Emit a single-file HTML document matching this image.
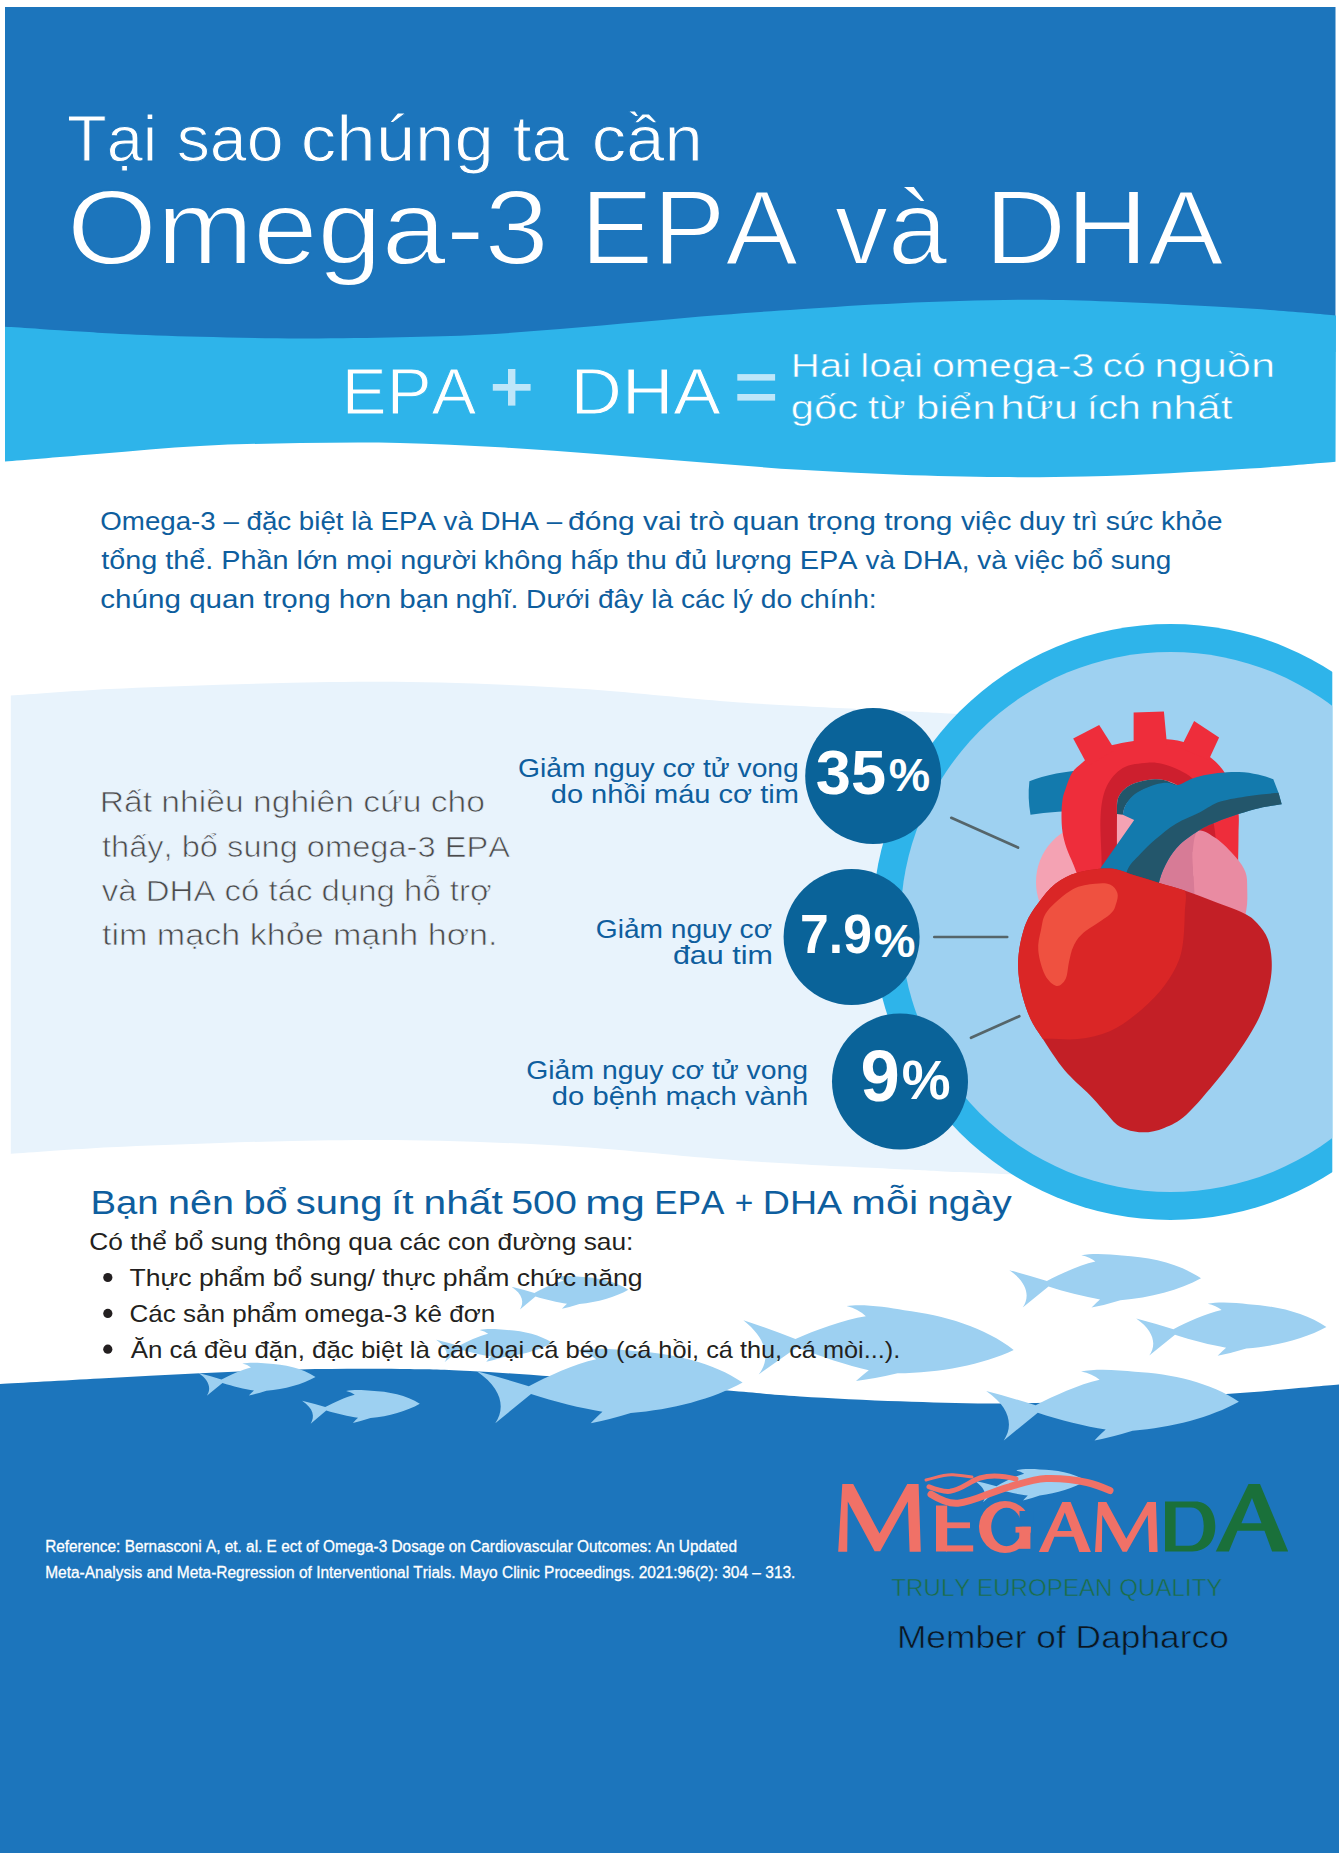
<!DOCTYPE html>
<html><head><meta charset="utf-8"><title>Omega-3 EPA và DHA</title>
<style>
html,body{margin:0;padding:0;background:#fff;}
body{width:1343px;height:1853px;overflow:hidden;}
svg{display:block;}
text{font-family:"Liberation Sans",sans-serif;font-kerning:none;font-variant-ligatures:none;}
</style></head><body>
<svg width="1343" height="1853" viewBox="0 0 1343 1853">
<rect x="0" y="0" width="1343" height="1853" fill="#fff"/>
<rect x="5" y="7" width="1330.5" height="345" fill="#1c75bc"/>
<path d="M5.0,326.8 C10.8,327.1 27.5,328.1 40.0,328.9 C52.5,329.7 66.7,330.7 80.0,331.5 C93.3,332.3 100.0,333.0 120.0,333.9 C140.0,334.8 170.0,336.0 200.0,336.8 C230.0,337.6 266.7,338.4 300.0,338.5 C333.3,338.6 370.0,337.9 400.0,337.3 C430.0,336.7 453.3,336.2 480.0,334.8 C506.7,333.4 532.8,331.2 560.0,329.0 C587.2,326.8 616.3,324.0 643.0,321.7 C669.7,319.4 693.8,317.1 720.0,315.0 C746.2,312.9 770.0,311.2 800.0,309.2 C830.0,307.2 863.3,304.8 900.0,303.2 C936.7,301.6 985.0,300.1 1020.0,299.8 C1055.0,299.5 1080.0,300.5 1110.0,301.5 C1140.0,302.5 1173.3,304.4 1200.0,305.8 C1226.7,307.2 1247.3,308.4 1270.0,310.0 C1292.7,311.6 1325.0,314.5 1336.0,315.4 L1335.5,461.7 C1321.2,462.9 1277.6,466.7 1250.0,468.6 C1222.4,470.5 1197.5,471.9 1170.0,473.2 C1142.5,474.5 1113.3,475.9 1085.0,476.5 C1056.7,477.1 1030.8,477.4 1000.0,477.1 C969.2,476.8 933.3,476.0 900.0,474.8 C866.7,473.6 833.3,471.9 800.0,469.8 C766.7,467.7 733.3,464.9 700.0,462.3 C666.7,459.7 633.3,456.7 600.0,454.2 C566.7,451.7 533.3,449.2 500.0,447.3 C466.7,445.4 433.3,443.6 400.0,442.9 C366.7,442.2 333.3,442.5 300.0,443.0 C266.7,443.5 233.3,444.2 200.0,446.0 C166.7,447.8 132.5,451.2 100.0,453.8 C67.5,456.4 20.8,460.3 5.0,461.6Z" fill="#2eb4ea"/>
<path d="M10.8,695.6 C27.3,694.5 75.1,690.8 110.0,689.0 C144.9,687.2 183.3,685.9 220.0,684.7 C256.7,683.6 293.3,682.5 330.0,682.1 C366.7,681.7 398.3,681.4 440.0,682.5 C481.7,683.6 533.3,685.7 580.0,688.8 C626.7,691.9 683.3,698.0 720.0,700.9 C756.7,703.8 770.0,704.4 800.0,706.1 C830.0,707.8 873.3,709.7 900.0,711.0 C926.7,712.3 926.7,712.4 960.0,713.9 C993.3,715.4 1051.7,718.1 1100.0,720.0 C1148.3,721.9 1225.0,724.2 1250.0,725.0 L1250.0,1183.2 C1225.0,1182.4 1148.3,1180.1 1100.0,1178.2 C1051.7,1176.3 993.3,1173.6 960.0,1172.1 C926.7,1170.6 926.7,1170.5 900.0,1169.2 C873.3,1167.9 830.0,1166.0 800.0,1164.3 C770.0,1162.6 756.7,1162.0 720.0,1159.1 C683.3,1156.2 626.7,1150.1 580.0,1147.0 C533.3,1143.9 481.7,1141.8 440.0,1140.7 C398.3,1139.6 366.7,1139.9 330.0,1140.3 C293.3,1140.7 256.7,1141.8 220.0,1142.9 C183.3,1144.1 144.9,1145.4 110.0,1147.2 C75.1,1149.0 27.3,1152.7 10.8,1153.8Z" fill="#e8f3fc"/>
<defs><clipPath id="cc"><rect x="0" y="0" width="1332.3" height="1853"/></clipPath></defs>
<g clip-path="url(#cc)"><circle cx="1170.5" cy="922" r="298" fill="#2eb4ea"/><circle cx="1170.5" cy="922" r="270" fill="#9ed1f1"/></g>
<path d="M0.0,1384.0 C16.7,1383.1 66.7,1380.3 100.0,1378.5 C133.3,1376.7 166.7,1374.8 200.0,1373.3 C233.3,1371.8 266.7,1370.1 300.0,1369.4 C333.3,1368.7 371.7,1368.7 400.0,1369.0 C428.3,1369.3 436.7,1369.2 470.0,1371.0 C503.3,1372.8 557.0,1376.8 600.0,1380.0 C643.0,1383.2 694.7,1387.8 728.0,1390.5 C761.3,1393.2 771.3,1394.6 800.0,1396.4 C828.7,1398.2 868.3,1400.1 900.0,1401.3 C931.7,1402.5 956.7,1403.5 990.0,1403.5 C1023.3,1403.5 1060.0,1402.6 1100.0,1401.0 C1140.0,1399.4 1190.2,1396.4 1230.0,1393.7 C1269.8,1391.0 1320.8,1386.1 1339.0,1384.6 L1339,1853 L0,1853Z" fill="#1c75bc"/>
<path d="M1009.4,1270.2 Q1028,1275 1046.9,1281 C1060,1274 1080,1265 1095.4,1261.6 Q1090,1257 1081.3,1255.3 C1092,1253 1110,1254 1122,1255.6 C1150,1257 1180,1264 1201,1278.3 C1180,1290 1150,1298 1120.4,1300.2 Q1105,1305 1091.5,1307.6 Q1097,1302 1100,1299.4 C1085,1297 1065,1292 1048.5,1286.6 L1022.7,1307.6 C1030,1297 1028,1283 1009.4,1270.2Z" fill="#9dd0f1" transform="matrix(1.00000,0.00000,-0.00000,1.00000,0.00,0.00)"/>
<path d="M1009.4,1270.2 Q1028,1275 1046.9,1281 C1060,1274 1080,1265 1095.4,1261.6 Q1090,1257 1081.3,1255.3 C1092,1253 1110,1254 1122,1255.6 C1150,1257 1180,1264 1201,1278.3 C1180,1290 1150,1298 1120.4,1300.2 Q1105,1305 1091.5,1307.6 Q1097,1302 1100,1299.4 C1085,1297 1065,1292 1048.5,1286.6 L1022.7,1307.6 C1030,1297 1028,1283 1009.4,1270.2Z" fill="#9dd0f1" transform="matrix(0.99282,0.00291,-0.00291,0.99282,137.75,54.38)"/>
<path d="M1009.4,1270.2 Q1028,1275 1046.9,1281 C1060,1274 1080,1265 1095.4,1261.6 Q1090,1257 1081.3,1255.3 C1092,1253 1110,1254 1122,1255.6 C1150,1257 1180,1264 1201,1278.3 C1180,1290 1150,1298 1120.4,1300.2 Q1105,1305 1091.5,1307.6 Q1097,1302 1100,1299.4 C1085,1297 1065,1292 1048.5,1286.6 L1022.7,1307.6 C1030,1297 1028,1283 1009.4,1270.2Z" fill="#9dd0f1" transform="matrix(1.31888,-0.00043,0.00043,1.31888,-345.62,-283.70)"/>
<path d="M1009.4,1270.2 Q1028,1275 1046.9,1281 C1060,1274 1080,1265 1095.4,1261.6 Q1090,1257 1081.3,1255.3 C1092,1253 1110,1254 1122,1255.6 C1150,1257 1180,1264 1201,1278.3 C1180,1290 1150,1298 1120.4,1300.2 Q1105,1305 1091.5,1307.6 Q1097,1302 1100,1299.4 C1085,1297 1065,1292 1048.5,1286.6 L1022.7,1307.6 C1030,1297 1028,1283 1009.4,1270.2Z" fill="#9dd0f1" transform="matrix(1.41478,0.09520,-0.09520,1.41478,-563.75,-572.94)"/>
<path d="M1009.4,1270.2 Q1028,1275 1046.9,1281 C1060,1274 1080,1265 1095.4,1261.6 Q1090,1257 1081.3,1255.3 C1092,1253 1110,1254 1122,1255.6 C1150,1257 1180,1264 1201,1278.3 C1180,1290 1150,1298 1120.4,1300.2 Q1105,1305 1091.5,1307.6 Q1097,1302 1100,1299.4 C1085,1297 1065,1292 1048.5,1286.6 L1022.7,1307.6 C1030,1297 1028,1283 1009.4,1270.2Z" fill="#9dd0f1" transform="matrix(1.38726,-0.00019,0.00019,1.38726,-923.74,-390.60)"/>
<path d="M1009.4,1270.2 Q1028,1275 1046.9,1281 C1060,1274 1080,1265 1095.4,1261.6 Q1090,1257 1081.3,1255.3 C1092,1253 1110,1254 1122,1255.6 C1150,1257 1180,1264 1201,1278.3 C1180,1290 1150,1298 1120.4,1300.2 Q1105,1305 1091.5,1307.6 Q1097,1302 1100,1299.4 C1085,1297 1065,1292 1048.5,1286.6 L1022.7,1307.6 C1030,1297 1028,1283 1009.4,1270.2Z" fill="#9dd0f1" transform="matrix(0.60605,-0.00996,0.00996,0.60605,-188.30,580.05)"/>
<path d="M1009.4,1270.2 Q1028,1275 1046.9,1281 C1060,1274 1080,1265 1095.4,1261.6 Q1090,1257 1081.3,1255.3 C1092,1253 1110,1254 1122,1255.6 C1150,1257 1180,1264 1201,1278.3 C1180,1290 1150,1298 1120.4,1300.2 Q1105,1305 1091.5,1307.6 Q1097,1302 1100,1299.4 C1085,1297 1065,1292 1048.5,1286.6 L1022.7,1307.6 C1030,1297 1028,1283 1009.4,1270.2Z" fill="#9dd0f1" transform="matrix(0.60918,-0.01010,0.01010,0.60918,-116.23,523.21)"/>
<path d="M1009.4,1270.2 Q1028,1275 1046.9,1281 C1060,1274 1080,1265 1095.4,1261.6 Q1090,1257 1081.3,1255.3 C1092,1253 1110,1254 1122,1255.6 C1150,1257 1180,1264 1201,1278.3 C1180,1290 1150,1298 1120.4,1300.2 Q1105,1305 1091.5,1307.6 Q1097,1302 1100,1299.4 C1085,1297 1065,1292 1048.5,1286.6 L1022.7,1307.6 C1030,1297 1028,1283 1009.4,1270.2Z" fill="#9dd0f1" transform="matrix(0.61042,-0.00545,0.00545,0.61042,-424.58,603.25)"/>
<path d="M1009.4,1270.2 Q1028,1275 1046.9,1281 C1060,1274 1080,1265 1095.4,1261.6 Q1090,1257 1081.3,1255.3 C1092,1253 1110,1254 1122,1255.6 C1150,1257 1180,1264 1201,1278.3 C1180,1290 1150,1298 1120.4,1300.2 Q1105,1305 1091.5,1307.6 Q1097,1302 1100,1299.4 C1085,1297 1065,1292 1048.5,1286.6 L1022.7,1307.6 C1030,1297 1028,1283 1009.4,1270.2Z" fill="#9dd0f1" transform="matrix(0.61387,-0.01029,0.01029,0.61387,-330.61,631.46)"/>
<ellipse cx="1090" cy="882" rx="54" ry="57" fill="#f4a2b3"/>
<path d="M1029.4,781.3 Q1052,772 1092,769 L1092,810 Q1055,811 1030.5,814.7 Q1027.5,798 1029.4,781.3Z" fill="#137aad"/>
<path d="M1080.0,882.0 C1078.9,879.1 1075.7,870.2 1073.4,864.5 C1071.2,858.8 1068.3,853.4 1066.5,848.0 C1064.7,842.6 1063.3,837.5 1062.5,832.0 C1061.7,826.5 1061.5,820.3 1061.5,815.0 C1061.5,809.7 1061.9,804.2 1062.5,800.0 C1063.1,795.8 1063.6,794.5 1065.2,790.0 C1066.8,785.5 1069.1,777.6 1072.0,773.0 C1074.9,768.4 1078.7,766.1 1082.5,762.6 C1086.3,759.1 1089.8,755.0 1095.0,752.0 C1100.2,749.0 1104.8,746.9 1113.8,744.8 C1122.8,742.7 1137.8,740.1 1149.3,739.6 C1160.8,739.1 1172.2,738.6 1182.6,741.7 C1193.0,744.8 1204.1,752.1 1211.8,758.4 C1219.5,764.6 1224.2,770.9 1228.5,779.2 C1232.8,787.5 1236.2,799.1 1237.9,808.4 C1239.6,817.7 1238.5,824.7 1238.5,835.0 C1238.5,845.3 1238.1,864.2 1238.0,870.0 L1200,880 L1100,885Z" fill="#ee2d3b"/>
<path d="M1073.2,738.6 L1099.2,725 L1115,750 L1088,766Z" fill="#ee2d3b"/>
<path d="M1133.6,712.5 L1163.9,711.5 L1167,745 L1133.6,745Z" fill="#ee2d3b"/>
<path d="M1194.1,720.9 L1219.1,737.5 L1208.7,760 L1180.6,748Z" fill="#ee2d3b"/>
<path d="M1101.5,880.0 C1101.5,876.1 1101.7,867.2 1101.5,856.5 C1101.3,845.8 1099.8,827.1 1100.6,815.5 C1101.4,803.9 1102.7,794.8 1106.4,786.9 C1110.1,779.0 1116.0,772.0 1122.8,768.0 C1129.6,764.0 1140.5,763.3 1147.3,762.7 C1154.1,762.1 1158.2,763.0 1163.7,764.3 C1169.2,765.6 1175.4,768.2 1180.1,770.5 C1184.8,772.8 1187.8,774.5 1191.6,777.8 C1195.4,781.0 1199.9,785.5 1203.0,790.0 C1206.1,794.5 1208.2,799.2 1210.0,805.0 C1211.8,810.8 1213.0,818.3 1214.0,825.0 C1215.0,831.7 1215.7,836.7 1216.0,845.0 C1216.3,853.3 1216.0,870.0 1216.0,875.0 Z" fill="#cd1f2e"/>
<path d="M1117.0,880.0 C1117.0,869.0 1116.9,827.4 1117.0,813.9 C1117.1,800.4 1116.6,803.2 1117.8,799.1 C1119.0,795.0 1121.4,792.0 1124.4,789.3 C1127.4,786.6 1131.4,784.4 1135.9,782.8 C1140.4,781.2 1146.8,780.0 1151.4,779.5 C1156.0,779.0 1159.3,778.9 1163.7,779.9 C1168.1,780.9 1173.2,782.7 1177.6,785.2 C1182.0,787.7 1186.6,790.0 1190.0,795.0 C1193.4,800.0 1196.3,800.8 1198.0,815.0 C1199.7,829.2 1199.7,869.2 1200.0,880.0 Z" fill="#f4a2b3"/>
<path d="M1117.0,814.0 C1117.1,811.5 1116.6,803.2 1117.8,799.1 C1119.0,795.0 1121.4,792.0 1124.4,789.3 C1127.4,786.6 1131.4,784.4 1135.9,782.8 C1140.4,781.2 1146.8,780.0 1151.4,779.5 C1156.0,779.0 1159.3,778.9 1163.7,779.9 C1168.1,780.9 1175.3,784.3 1177.6,785.2 L1177.6,786.0 C1176.0,785.7 1171.5,784.1 1167.8,784.0 C1164.1,783.9 1159.6,784.5 1155.5,785.5 C1151.4,786.5 1147.0,788.1 1143.2,790.0 C1139.4,791.9 1135.6,794.3 1132.6,797.0 C1129.6,799.7 1126.8,803.0 1125.2,806.0 C1123.6,809.0 1123.2,813.2 1122.8,814.7Z" fill="#22566a"/>
<path d="M1140.0,905.0 L1140.0,860.0 L1165.0,835.0 L1200.8,826.0 L1196.0,840.0 L1192.7,852.6 L1193.6,874.9 L1197.2,891.9 L1198.0,905.0Z" fill="#d77b96"/>
<path d="M1198.0,831.0 C1201.9,828.6 1209.7,834.0 1216.0,838.3 C1222.3,842.6 1230.7,851.4 1235.6,857.0 C1240.5,862.6 1243.6,867.0 1245.5,872.2 C1247.4,877.4 1247.1,882.0 1247.2,888.3 C1247.3,894.6 1247.8,902.2 1246.3,910.0 C1244.8,917.8 1244.9,930.8 1238.0,935.0 C1231.1,939.2 1212.0,940.0 1205.0,935.0 C1198.0,930.0 1197.9,915.0 1196.0,905.0 C1194.1,895.0 1194.1,883.6 1193.6,874.9 C1193.0,866.2 1192.0,859.9 1192.7,852.6 C1193.4,845.3 1194.1,833.4 1198.0,831.0Z" fill="#e98ba2"/>
<path d="M1122.8,814.7 C1123.2,813.2 1123.6,808.8 1125.2,805.7 C1126.8,802.6 1129.6,798.6 1132.6,795.9 C1135.6,793.2 1139.4,791.2 1143.2,789.3 C1147.0,787.4 1151.4,785.5 1155.5,784.4 C1159.6,783.3 1164.1,782.7 1167.8,782.8 C1171.5,782.9 1173.9,785.5 1177.6,785.0 C1181.3,784.5 1186.3,781.0 1190.0,779.5 C1193.7,778.0 1195.3,777.3 1200.0,776.2 C1204.7,775.1 1211.5,773.7 1218.0,773.0 C1224.5,772.3 1232.3,771.8 1239.0,772.0 C1245.7,772.2 1252.3,773.3 1258.0,774.5 C1263.7,775.7 1270.8,778.4 1273.3,779.2 L1278.5,792.8 L1281.7,804.3 C1278.1,804.9 1267.2,806.3 1260.0,807.9 C1252.8,809.5 1245.6,811.7 1238.3,814.1 C1231.0,816.5 1222.2,819.7 1216.0,822.2 C1209.8,824.7 1206.8,825.6 1200.8,829.3 C1194.8,833.0 1185.6,839.0 1180.1,844.2 C1174.6,849.4 1171.2,854.6 1167.8,860.6 C1164.4,866.6 1161.4,873.4 1159.6,880.0 C1157.8,886.6 1157.4,896.7 1157.0,900.0 L1095,900 L1100.6,867.9 L1134.2,820Z" fill="#137aad"/>
<path d="M1278.5,792.8 C1273.7,793.3 1259.1,794.4 1249.4,795.9 C1239.7,797.4 1228.6,798.9 1220.4,801.6 C1212.2,804.3 1207.4,808.5 1200.0,812.2 C1192.6,815.9 1183.4,819.2 1176.0,823.7 C1168.6,828.2 1161.5,834.2 1155.5,839.3 C1149.5,844.4 1144.8,849.0 1140.0,854.3 C1135.2,859.6 1129.9,863.6 1126.9,871.2 C1123.9,878.8 1122.8,895.2 1122.0,900.0 L1158,900 L1157.0,900.0 C1157.4,896.7 1157.8,886.6 1159.6,880.0 C1161.4,873.4 1164.4,866.6 1167.8,860.6 C1171.2,854.6 1174.6,849.4 1180.1,844.2 C1185.6,839.0 1194.8,833.0 1200.8,829.3 C1206.8,825.6 1209.8,824.7 1216.0,822.2 C1222.2,819.7 1231.0,816.5 1238.3,814.1 C1245.6,811.7 1252.8,809.5 1260.0,807.9 C1267.2,806.3 1278.1,804.9 1281.7,804.3Z" fill="#23566b"/>
<defs><clipPath id="vc"><path d="M1038.3,903.1 C1043.2,896.5 1048.8,888.9 1055.4,883.8 C1062.0,878.7 1068.9,875.0 1078.0,872.5 C1087.1,870.0 1100.3,868.0 1109.8,868.5 C1119.3,869.0 1126.6,873.0 1135.0,875.5 C1143.4,878.0 1151.9,880.7 1160.0,883.2 C1168.1,885.7 1174.8,887.2 1183.8,890.3 C1192.8,893.4 1203.9,897.7 1214.0,901.6 C1224.1,905.5 1237.0,909.9 1244.2,913.5 C1251.4,917.1 1253.2,918.9 1257.2,923.2 C1261.2,927.5 1265.6,933.1 1268.0,939.4 C1270.4,945.7 1271.4,953.8 1271.7,961.0 C1272.0,968.2 1271.6,974.5 1270.1,982.6 C1268.6,990.7 1265.6,1001.5 1262.6,1009.6 C1259.5,1017.7 1256.3,1023.5 1251.8,1031.2 C1247.3,1038.9 1241.4,1047.9 1235.6,1056.0 C1229.8,1064.1 1225.4,1070.2 1217.2,1080.0 C1209.0,1089.8 1195.4,1106.5 1186.6,1114.5 C1177.8,1122.5 1171.7,1124.9 1164.2,1127.9 C1156.8,1130.9 1149.3,1132.5 1141.9,1132.3 C1134.5,1132.0 1125.8,1129.9 1119.6,1126.4 C1113.4,1122.9 1109.7,1116.7 1104.7,1111.5 C1099.7,1106.3 1096.5,1102.0 1089.8,1095.1 C1083.1,1088.2 1072.2,1079.4 1064.4,1070.1 C1056.6,1060.8 1048.6,1047.7 1042.9,1039.1 C1037.2,1030.5 1033.8,1025.9 1030.4,1018.7 C1027.0,1011.5 1024.5,1003.5 1022.5,996.0 C1020.5,988.5 1019.1,980.9 1018.5,973.4 C1017.9,965.9 1017.9,959.0 1019.1,950.7 C1020.3,942.4 1022.7,931.4 1025.9,923.5 C1029.1,915.6 1033.4,909.7 1038.3,903.1Z"/></clipPath></defs>
<path d="M1038.3,903.1 C1043.2,896.5 1048.8,888.9 1055.4,883.8 C1062.0,878.7 1068.9,875.0 1078.0,872.5 C1087.1,870.0 1100.3,868.0 1109.8,868.5 C1119.3,869.0 1126.6,873.0 1135.0,875.5 C1143.4,878.0 1151.9,880.7 1160.0,883.2 C1168.1,885.7 1174.8,887.2 1183.8,890.3 C1192.8,893.4 1203.9,897.7 1214.0,901.6 C1224.1,905.5 1237.0,909.9 1244.2,913.5 C1251.4,917.1 1253.2,918.9 1257.2,923.2 C1261.2,927.5 1265.6,933.1 1268.0,939.4 C1270.4,945.7 1271.4,953.8 1271.7,961.0 C1272.0,968.2 1271.6,974.5 1270.1,982.6 C1268.6,990.7 1265.6,1001.5 1262.6,1009.6 C1259.5,1017.7 1256.3,1023.5 1251.8,1031.2 C1247.3,1038.9 1241.4,1047.9 1235.6,1056.0 C1229.8,1064.1 1225.4,1070.2 1217.2,1080.0 C1209.0,1089.8 1195.4,1106.5 1186.6,1114.5 C1177.8,1122.5 1171.7,1124.9 1164.2,1127.9 C1156.8,1130.9 1149.3,1132.5 1141.9,1132.3 C1134.5,1132.0 1125.8,1129.9 1119.6,1126.4 C1113.4,1122.9 1109.7,1116.7 1104.7,1111.5 C1099.7,1106.3 1096.5,1102.0 1089.8,1095.1 C1083.1,1088.2 1072.2,1079.4 1064.4,1070.1 C1056.6,1060.8 1048.6,1047.7 1042.9,1039.1 C1037.2,1030.5 1033.8,1025.9 1030.4,1018.7 C1027.0,1011.5 1024.5,1003.5 1022.5,996.0 C1020.5,988.5 1019.1,980.9 1018.5,973.4 C1017.9,965.9 1017.9,959.0 1019.1,950.7 C1020.3,942.4 1022.7,931.4 1025.9,923.5 C1029.1,915.6 1033.4,909.7 1038.3,903.1Z" fill="#c31f26"/>
<path clip-path="url(#vc)" d="M1030.0,880.0 C1040.8,874.3 1051.7,868.3 1065.0,866.0 C1078.3,863.7 1098.1,864.8 1109.8,866.0 C1121.5,867.2 1126.6,870.5 1135.0,873.0 C1143.4,875.5 1151.9,878.3 1160.0,881.0 C1168.1,883.7 1179.7,883.8 1183.8,889.0 C1187.9,894.2 1185.0,903.1 1184.8,912.4 C1184.6,921.7 1184.1,935.8 1182.7,944.8 C1181.3,953.8 1180.0,958.7 1176.2,966.4 C1172.4,974.1 1166.9,983.1 1160.0,991.2 C1153.1,999.3 1143.4,1008.3 1135.0,1015.0 C1126.6,1021.7 1119.3,1027.2 1109.8,1031.2 C1100.3,1035.2 1089.2,1037.8 1078.0,1039.1 C1066.8,1040.4 1050.9,1038.1 1042.9,1039.1 C1034.9,1040.1 1037.2,1044.8 1030.0,1045.0 C1022.9,1045.2 1005.0,1064.2 1000.0,1040.0 C995.0,1015.8 995.0,926.7 1000.0,900.0 C1005.0,873.3 1019.2,885.7 1030.0,880.0Z" fill="#da2626"/>
<path d="M1056.5,985.9 C1053.1,985.2 1048.0,980.9 1045.0,975.0 C1042.0,969.1 1039.0,958.2 1038.3,950.7 C1037.6,943.2 1039.5,936.6 1041.0,930.0 C1042.5,923.4 1042.2,917.8 1047.4,911.0 C1052.6,904.2 1064.5,894.0 1072.4,889.5 C1080.3,885.0 1088.7,884.6 1095.0,883.8 C1101.3,883.0 1106.3,883.0 1110.0,884.5 C1113.7,886.0 1116.4,889.8 1117.4,893.0 C1118.4,896.2 1117.3,900.4 1116.0,904.0 C1114.7,907.6 1115.2,909.6 1109.8,914.4 C1104.4,919.2 1089.8,927.3 1083.7,932.6 C1077.7,937.9 1076.0,941.3 1073.5,946.2 C1071.0,951.1 1070.3,956.5 1069.0,962.0 C1067.7,967.5 1067.7,975.0 1065.6,979.0 C1063.5,983.0 1059.9,986.6 1056.5,985.9Z" fill="#ef5140"/>
<line x1="951.3" y1="817.8" x2="1018.0" y2="847.6" stroke="#55656a" stroke-width="2.7" stroke-linecap="round"/>
<line x1="934.3" y1="937.0" x2="1007.2" y2="937.0" stroke="#55656a" stroke-width="2.7" stroke-linecap="round"/>
<line x1="971.0" y1="1037.8" x2="1019.3" y2="1016.2" stroke="#55656a" stroke-width="2.7" stroke-linecap="round"/>
<circle cx="873.2" cy="776.0" r="68" fill="#0a6399"/>
<circle cx="851.6" cy="937.0" r="68" fill="#0a6399"/>
<circle cx="900.0" cy="1081.5" r="68" fill="#0a6399"/>
<text x="815.75" y="794.30" font-size="63.00" textLength="70.31" lengthAdjust="spacingAndGlyphs" fill="#fff" font-weight="bold">35</text>
<text x="888.84" y="791.20" font-size="47.00" textLength="41.39" lengthAdjust="spacingAndGlyphs" fill="#fff" font-weight="bold">%</text>
<text x="800.08" y="953.00" font-size="55.00" textLength="71.84" lengthAdjust="spacingAndGlyphs" fill="#fff" font-weight="bold">7.9</text>
<text x="873.83" y="956.80" font-size="47.00" textLength="41.70" lengthAdjust="spacingAndGlyphs" fill="#fff" font-weight="bold">%</text>
<text x="860.55" y="1101.00" font-size="72.00" textLength="39.27" lengthAdjust="spacingAndGlyphs" fill="#fff" font-weight="bold">9</text>
<text x="901.63" y="1098.60" font-size="55.00" textLength="48.81" lengthAdjust="spacingAndGlyphs" fill="#fff" font-weight="bold">%</text>
<text x="66.94" y="160.80" font-size="64.00" textLength="90.34" lengthAdjust="spacingAndGlyphs" fill="#fff" stroke="#1c75bc" stroke-width="1.00">Tại</text>
<text x="176.65" y="160.80" font-size="64.00" textLength="106.93" lengthAdjust="spacingAndGlyphs" fill="#fff" stroke="#1c75bc" stroke-width="1.00">sao</text>
<text x="300.79" y="160.80" font-size="64.00" textLength="193.18" lengthAdjust="spacingAndGlyphs" fill="#fff" stroke="#1c75bc" stroke-width="1.00">chúng</text>
<text x="512.68" y="160.80" font-size="64.00" textLength="56.42" lengthAdjust="spacingAndGlyphs" fill="#fff" stroke="#1c75bc" stroke-width="1.00">ta</text>
<text x="591.78" y="160.80" font-size="64.00" textLength="110.89" lengthAdjust="spacingAndGlyphs" fill="#fff" stroke="#1c75bc" stroke-width="1.00">cần</text>
<text x="67.03" y="263.80" font-size="106.00" textLength="481.75" lengthAdjust="spacingAndGlyphs" fill="#fff" stroke="#1c75bc" stroke-width="1.80">Omega-3</text>
<text x="580.59" y="263.80" font-size="106.00" textLength="217.43" lengthAdjust="spacingAndGlyphs" fill="#fff" stroke="#1c75bc" stroke-width="1.80">EPA</text>
<text x="834.84" y="263.80" font-size="106.00" textLength="112.56" lengthAdjust="spacingAndGlyphs" fill="#fff" stroke="#1c75bc" stroke-width="1.80">và</text>
<text x="984.61" y="263.80" font-size="106.00" textLength="239.01" lengthAdjust="spacingAndGlyphs" fill="#fff" stroke="#1c75bc" stroke-width="1.80">DHA</text>
<text x="341.89" y="413.80" font-size="65.00" textLength="134.34" lengthAdjust="spacingAndGlyphs" fill="#fff" stroke="#2eb4ea" stroke-width="1.00">EPA</text>
<text x="570.56" y="413.80" font-size="65.00" textLength="150.28" lengthAdjust="spacingAndGlyphs" fill="#fff" stroke="#2eb4ea" stroke-width="1.00">DHA</text>
<rect x="508" y="369" width="7.4" height="36.6" fill="#bee6f9"/>
<rect x="492.8" y="384" width="37.8" height="6.7" fill="#bee6f9"/>
<rect x="737.3" y="374.1" width="37.8" height="6.5" fill="#bee6f9"/>
<rect x="737.3" y="394" width="37.8" height="6.6" fill="#bee6f9"/>
<text x="790.74" y="377.00" font-size="33.00" textLength="60.53" lengthAdjust="spacingAndGlyphs" fill="#fff" stroke="#2eb4ea" stroke-width="0.50">Hai</text>
<text x="860.23" y="377.00" font-size="33.00" textLength="62.73" lengthAdjust="spacingAndGlyphs" fill="#fff" stroke="#2eb4ea" stroke-width="0.50">loại</text>
<text x="931.92" y="377.00" font-size="33.00" textLength="162.54" lengthAdjust="spacingAndGlyphs" fill="#fff" stroke="#2eb4ea" stroke-width="0.50">omega-3</text>
<text x="1102.52" y="377.00" font-size="33.00" textLength="43.04" lengthAdjust="spacingAndGlyphs" fill="#fff" stroke="#2eb4ea" stroke-width="0.50">có</text>
<text x="1154.37" y="377.00" font-size="33.00" textLength="120.70" lengthAdjust="spacingAndGlyphs" fill="#fff" stroke="#2eb4ea" stroke-width="0.50">nguồn</text>
<text x="790.80" y="419.30" font-size="33.00" textLength="67.25" lengthAdjust="spacingAndGlyphs" fill="#fff" stroke="#2eb4ea" stroke-width="0.50">gốc</text>
<text x="867.95" y="419.30" font-size="33.00" textLength="37.62" lengthAdjust="spacingAndGlyphs" fill="#fff" stroke="#2eb4ea" stroke-width="0.50">từ</text>
<text x="916.04" y="419.30" font-size="33.00" textLength="79.54" lengthAdjust="spacingAndGlyphs" fill="#fff" stroke="#2eb4ea" stroke-width="0.50">biển</text>
<text x="1000.44" y="419.30" font-size="33.00" textLength="77.40" lengthAdjust="spacingAndGlyphs" fill="#fff" stroke="#2eb4ea" stroke-width="0.50">hữu</text>
<text x="1086.67" y="419.30" font-size="33.00" textLength="54.22" lengthAdjust="spacingAndGlyphs" fill="#fff" stroke="#2eb4ea" stroke-width="0.50">ích</text>
<text x="1149.83" y="419.30" font-size="33.00" textLength="82.73" lengthAdjust="spacingAndGlyphs" fill="#fff" stroke="#2eb4ea" stroke-width="0.50">nhất</text>
<text x="100.29" y="529.50" font-size="25.70" textLength="461.83" lengthAdjust="spacingAndGlyphs" fill="#0e5e9e">Omega-3 – đặc biệt là EPA và DHA –</text>
<text x="568.14" y="529.50" font-size="25.70" textLength="384.39" lengthAdjust="spacingAndGlyphs" fill="#0e5e9e">đóng vai trò quan trọng trong</text>
<text x="960.90" y="529.50" font-size="25.70" textLength="261.66" lengthAdjust="spacingAndGlyphs" fill="#0e5e9e">việc duy trì sức khỏe</text>
<text x="101.16" y="568.80" font-size="25.70" textLength="375.78" lengthAdjust="spacingAndGlyphs" fill="#0e5e9e">tổng thể. Phần lớn mọi người</text>
<text x="483.75" y="568.80" font-size="25.70" textLength="373.90" lengthAdjust="spacingAndGlyphs" fill="#0e5e9e">không hấp thu đủ lượng EPA</text>
<text x="865.60" y="568.80" font-size="25.70" textLength="305.69" lengthAdjust="spacingAndGlyphs" fill="#0e5e9e">và DHA, và việc bổ sung</text>
<text x="100.34" y="608.40" font-size="25.70" textLength="348.38" lengthAdjust="spacingAndGlyphs" fill="#0e5e9e">chúng quan trọng hơn bạn</text>
<text x="455.63" y="608.40" font-size="25.70" textLength="421.04" lengthAdjust="spacingAndGlyphs" fill="#0e5e9e">nghĩ. Dưới đây là các lý do chính:</text>
<text x="99.69" y="812.40" font-size="30.00" textLength="385.27" lengthAdjust="spacingAndGlyphs" fill="#4b4b4d" stroke="#e8f3fc" stroke-width="0.70">Rất nhiều nghiên cứu cho</text>
<text x="101.96" y="856.60" font-size="30.00" textLength="407.96" lengthAdjust="spacingAndGlyphs" fill="#4b4b4d" stroke="#e8f3fc" stroke-width="0.70">thấy, bổ sung omega-3 EPA</text>
<text x="101.84" y="900.50" font-size="30.00" textLength="389.78" lengthAdjust="spacingAndGlyphs" fill="#4b4b4d" stroke="#e8f3fc" stroke-width="0.70">và DHA có tác dụng hỗ trợ</text>
<text x="101.93" y="944.70" font-size="30.00" textLength="395.63" lengthAdjust="spacingAndGlyphs" fill="#4b4b4d" stroke="#e8f3fc" stroke-width="0.70">tim mạch khỏe mạnh hơn.</text>
<text x="517.98" y="777.40" font-size="25.40" textLength="280.84" lengthAdjust="spacingAndGlyphs" fill="#0e5e9e">Giảm nguy cơ tử vong</text>
<text x="550.78" y="803.00" font-size="25.40" textLength="248.13" lengthAdjust="spacingAndGlyphs" fill="#0e5e9e">do nhồi máu cơ tim</text>
<text x="595.79" y="938.00" font-size="25.40" textLength="176.34" lengthAdjust="spacingAndGlyphs" fill="#0e5e9e">Giảm nguy cơ</text>
<text x="672.92" y="963.90" font-size="25.40" textLength="99.89" lengthAdjust="spacingAndGlyphs" fill="#0e5e9e">đau tim</text>
<text x="526.27" y="1078.50" font-size="25.40" textLength="281.85" lengthAdjust="spacingAndGlyphs" fill="#0e5e9e">Giảm nguy cơ tử vong</text>
<text x="551.87" y="1104.60" font-size="25.40" textLength="256.32" lengthAdjust="spacingAndGlyphs" fill="#0e5e9e">do bệnh mạch vành</text>
<text x="90.46" y="1213.60" font-size="34.00" textLength="68.13" lengthAdjust="spacingAndGlyphs" fill="#0e5e9e">Bạn</text>
<text x="167.97" y="1213.60" font-size="34.00" textLength="66.00" lengthAdjust="spacingAndGlyphs" fill="#0e5e9e">nên</text>
<text x="243.42" y="1213.60" font-size="34.00" textLength="44.45" lengthAdjust="spacingAndGlyphs" fill="#0e5e9e">bổ</text>
<text x="295.79" y="1213.60" font-size="34.00" textLength="86.69" lengthAdjust="spacingAndGlyphs" fill="#0e5e9e">sung</text>
<text x="390.91" y="1213.60" font-size="34.00" textLength="22.69" lengthAdjust="spacingAndGlyphs" fill="#0e5e9e">ít</text>
<text x="423.50" y="1213.60" font-size="34.00" textLength="79.20" lengthAdjust="spacingAndGlyphs" fill="#0e5e9e">nhất</text>
<text x="511.22" y="1213.60" font-size="34.00" textLength="65.72" lengthAdjust="spacingAndGlyphs" fill="#0e5e9e">500</text>
<text x="585.36" y="1213.60" font-size="34.00" textLength="59.51" lengthAdjust="spacingAndGlyphs" fill="#0e5e9e">mg</text>
<text x="654.32" y="1213.60" font-size="34.00" textLength="70.14" lengthAdjust="spacingAndGlyphs" fill="#0e5e9e">EPA</text>
<text x="734.75" y="1213.60" font-size="34.00" textLength="18.51" lengthAdjust="spacingAndGlyphs" fill="#0e5e9e">+</text>
<text x="762.82" y="1213.60" font-size="34.00" textLength="79.36" lengthAdjust="spacingAndGlyphs" fill="#0e5e9e">DHA</text>
<text x="851.34" y="1213.60" font-size="34.00" textLength="66.85" lengthAdjust="spacingAndGlyphs" fill="#0e5e9e">mỗi</text>
<text x="927.21" y="1213.60" font-size="34.00" textLength="84.46" lengthAdjust="spacingAndGlyphs" fill="#0e5e9e">ngày</text>
<text x="89.36" y="1249.80" font-size="23.20" textLength="544.04" lengthAdjust="spacingAndGlyphs" fill="#231f20">Có thể bổ sung thông qua các con đường sau:</text>
<text x="129.40" y="1285.80" font-size="23.20" textLength="513.11" lengthAdjust="spacingAndGlyphs" fill="#231f20">Thực phẩm bổ sung/ thực phẩm chức năng</text>
<text x="129.48" y="1321.70" font-size="23.20" textLength="365.71" lengthAdjust="spacingAndGlyphs" fill="#231f20">Các sản phẩm omega-3 kê đơn</text>
<text x="130.75" y="1357.50" font-size="23.20" textLength="299.25" lengthAdjust="spacingAndGlyphs" fill="#231f20">Ăn cá đều đặn, đặc biệt là</text>
<text x="437.31" y="1357.50" font-size="23.20" textLength="171.07" lengthAdjust="spacingAndGlyphs" fill="#231f20">các loại cá béo</text>
<text x="616.13" y="1357.50" font-size="23.20" textLength="284.18" lengthAdjust="spacingAndGlyphs" fill="#231f20">(cá hồi, cá thu, cá mòi...).</text>
<circle cx="107.8" cy="1277.5" r="4.6" fill="#231f20"/>
<circle cx="107.8" cy="1313.4" r="4.6" fill="#231f20"/>
<circle cx="107.8" cy="1349.2" r="4.6" fill="#231f20"/>
<text x="45.14" y="1552.40" font-size="16.00" textLength="691.85" lengthAdjust="spacingAndGlyphs" fill="#fff" stroke="#fff" stroke-width="0.3">Reference: Bernasconi A, et. al. E ect of Omega-3 Dosage on Cardiovascular Outcomes: An Updated</text>
<text x="45.13" y="1578.00" font-size="16.00" textLength="750.28" lengthAdjust="spacingAndGlyphs" fill="#fff" stroke="#fff" stroke-width="0.3">Meta-Analysis and Meta-Regression of Interventional Trials. Mayo Clinic Proceedings. 2021:96(2): 304 – 313.</text>
<path d="M1009.4,1270.2 Q1028,1275 1046.9,1281 C1060,1274 1080,1265 1095.4,1261.6 Q1090,1257 1081.3,1255.3 C1092,1253 1110,1254 1122,1255.6 C1150,1257 1180,1264 1201,1278.3 C1180,1290 1150,1298 1120.4,1300.2 Q1105,1305 1091.5,1307.6 Q1097,1302 1100,1299.4 C1085,1297 1065,1292 1048.5,1286.6 L1022.7,1307.6 C1030,1297 1028,1283 1009.4,1270.2Z" fill="#9dd0f1" transform="matrix(0.58142,-0.02458,0.02458,0.58142,356.29,767.09)"/>
<path d="M842.3,1483.9 L853.2,1483.9 L879.5,1533.6 L907.3,1483.9 L918.6,1483.9 L920.8,1551.7 L909.6,1551.7 L907.8,1501.5 L880.2,1551.2 L874.6,1551.2 L847.8,1501.5 L847.2,1551.7 L838.2,1551.7Z" fill="#f07167"/>
<path d="M842.3,1483.9 L853.2,1483.9 L879.5,1533.6 L907.3,1483.9 L918.6,1483.9 L920.8,1551.7 L909.6,1551.7 L907.8,1501.5 L880.2,1551.2 L874.6,1551.2 L847.8,1501.5 L847.2,1551.7 L838.2,1551.7Z" fill="#f07167" transform="translate(1095,1501.9) scale(0.758,0.739) translate(-838.2,-1483.9)"/>
<path d="M1248.5,1484 L1260,1484 L1288.2,1551.4 L1272.1,1551.4 L1264.5,1530.8 L1237.4,1530.8 L1228.9,1551.4 L1215.8,1551.4Z M1252,1498.1 L1241.4,1523.3 L1261.5,1523.3Z" fill="#1a703a" fill-rule="evenodd"/>
<path d="M1248.5,1484 L1260,1484 L1288.2,1551.4 L1272.1,1551.4 L1264.5,1530.8 L1237.4,1530.8 L1228.9,1551.4 L1215.8,1551.4Z M1252,1498.1 L1241.4,1523.3 L1261.5,1523.3Z" fill="#f07167" fill-rule="evenodd" transform="translate(1038.8,1501.9) scale(0.7196,0.7433) translate(-1215.8,-1484)"/>
<path d="M1165,1501.6 L1195,1501.6 C1208,1501.6 1215.3,1512 1215.3,1526.5 C1215.3,1541 1207,1551.4 1192,1551.4 L1165,1551.4Z M1175.6,1507.4 L1191,1507.4 C1199,1507.4 1203.7,1514 1203.7,1526.5 C1203.7,1539 1198,1545.8 1189,1545.8 L1175.6,1545.8Z" fill="#1a703a" fill-rule="evenodd"/>
<rect x="936" y="1505.5" width="11.2" height="46" fill="#f07167"/>
<rect x="946" y="1522.4" width="24" height="5.8" fill="#f07167"/>
<rect x="946" y="1545.4" width="27.2" height="6.1" fill="#f07167"/>
<path d="M979,1527 A26,26 0 1 0 1031,1527 A26,26 0 1 0 979,1527Z M991.2,1527 A15.3,19.2 0 1 0 1021.8,1527 A15.3,19.2 0 1 0 991.2,1527Z" fill="#f07167" fill-rule="evenodd"/>
<rect x="1019.5" y="1511" width="14" height="15.8" fill="#1c75bc"/>
<rect x="1019.3" y="1526.8" width="11.1" height="22" fill="#f07167"/>
<rect x="1015.5" y="1526.8" width="14.9" height="5.8" fill="#f07167"/>
<path d="M926,1480 C935,1478 944,1474 953,1474.8 C960,1475.3 966,1476 972,1477" fill="none" stroke="#f07167" stroke-width="3" stroke-linecap="round"/>
<path d="M929,1486.8 C937,1490 944,1492 950,1491.3 C962,1489.5 970,1481 980,1478 C990,1475 1002,1475.5 1016,1479" fill="none" stroke="#f07167" stroke-width="5" stroke-linecap="round"/>
<path d="M931,1494.3 C940,1500 949,1504 958,1503.2 C975,1501.5 990,1492 1009.4,1486.8 C1025,1482 1035,1479 1046,1478.5 C1062,1478 1076,1480 1087,1482.5 C1096,1484.5 1103,1487.5 1110,1490.5" fill="none" stroke="#f07167" stroke-width="7" stroke-linecap="round"/>
<text x="891.31" y="1596.40" font-size="23.40" textLength="331.17" lengthAdjust="spacingAndGlyphs" fill="#1d6e47" stroke="#1c75bc" stroke-width="0.50">TRULY EUROPEAN QUALITY</text>
<text x="896.90" y="1647.60" font-size="31.20" textLength="331.98" lengthAdjust="spacingAndGlyphs" fill="#0b1620" stroke="#1c75bc" stroke-width="0.60">Member of Dapharco</text>
</svg>
</body></html>
